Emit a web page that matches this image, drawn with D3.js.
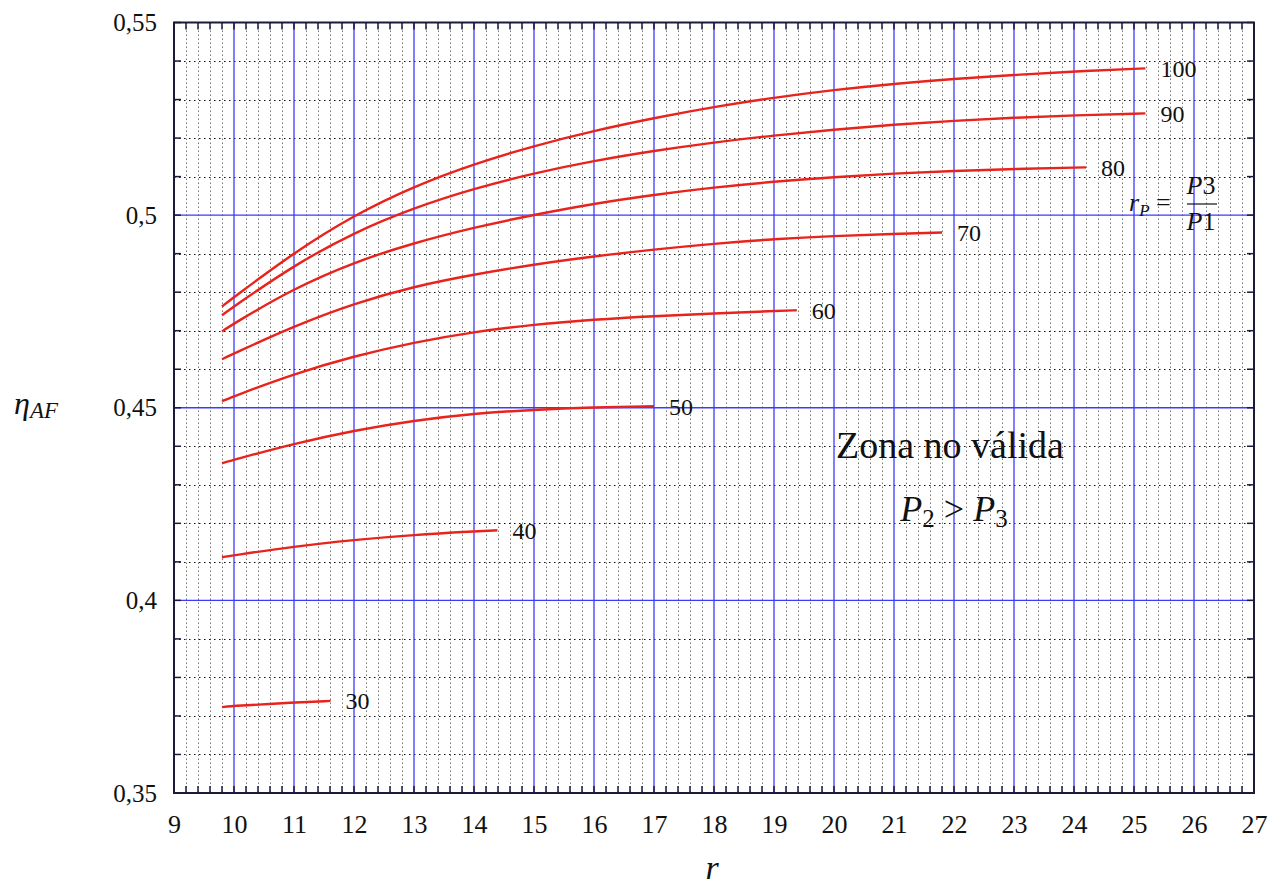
<!DOCTYPE html>
<html><head><meta charset="utf-8">
<script src="https://cdn.jsdelivr.net/npm/d3@7"></script>
<style>body{margin:0;background:#fff}svg{display:block}text{font-family:"Liberation Serif","DejaVu Serif",serif;fill:#111}</style>
</head><body><svg id="c" width="1279" height="886"></svg>
<script>
// ---- data ----
const xTicks = [9,10,11,12,13,14,15,16,17,18,19,20,21,22,23,24,25,26,27];
const yTickValues = [0.35,0.4,0.45,0.5,0.55];
const yTickLabels = ["0,35","0,4","0,45","0,5","0,55"];
const rpLabels = [30,40,50,60,70,80,90,100];

const r30  = [9.8,10,11,11.61];
const eta30 = [0.3723,0.3726,0.3735,0.3739];
const r40  = [9.8,10,11,12,13,14,14.39];
const eta40 = [0.4112,0.4117,0.4140,0.4157,0.4170,0.4179,0.4182];
const r50  = [9.8,10,11,12,13,14,15,16,17];
const eta50 = [0.4356,0.4365,0.4407,0.4441,0.4467,0.4485,0.4495,0.4501,0.4504];
const r60  = [9.8,10,11,12,13,14,15,16,17,18,19,19.38];
const eta60 = [0.4517,0.4530,0.4588,0.4634,0.4670,0.4697,0.4716,0.4729,0.4738,0.4745,0.4751,0.4753];
const r70  = [9.8,10,11,12,13,14,15,16,17,18,19,20,21,21.8];
const eta70 = [0.4626,0.4641,0.4712,0.4771,0.4815,0.4846,0.4872,0.4893,0.4911,0.4926,0.4938,0.4946,0.4951,0.4955];
const r80  = [9.8,10,11,12,13,14,15,16,17,18,19,20,21,22,23,24.2];
const eta80 = [0.4698,0.4719,0.4810,0.4878,0.4928,0.4968,0.5001,0.5030,0.5053,0.5072,0.5087,0.5099,0.5108,0.5115,0.5120,0.5124];
const r90  = [9.8,10,11,12,13,14,15,16,17,18,19,20,21,22,23,24,25.19];
const eta90 = [0.4740,0.4763,0.4870,0.4955,0.5019,0.5069,0.5109,0.5141,0.5167,0.5189,0.5207,0.5222,0.5235,0.5245,0.5253,0.5259,0.5264];
const r100 = [9.8,10,11,12,13,14,15,16,17,18,19,20,21,22,23,24,25.19];
const eta100 = [0.4763,0.4787,0.4903,0.5000,0.5075,0.5133,0.5180,0.5219,0.5252,0.5281,0.5305,0.5325,0.5341,0.5354,0.5364,0.5373,0.5381];

const seriesR = [r30,r40,r50,r60,r70,r80,r90,r100];
const seriesEta = [eta30,eta40,eta50,eta60,eta70,eta80,eta90,eta100];

// ---- layout ----
const L=174, R=1254, T=22.5, B=793;
const svg = d3.select("#c");
const x = d3.scaleLinear().domain([9,27]).range([L,R]);
const y = d3.scaleLinear().domain([0.35,0.55]).range([B,T]);

const g = svg.append("g");
const vMinor = d3.range(9.2,27,0.2).filter(v=>Math.abs(v-Math.round(v))>1e-6);
g.selectAll(".vm").data(vMinor).join("line")
 .attr("x1",d=>Math.round(x(d))+0.5).attr("x2",d=>Math.round(x(d))+0.5)
 .attr("y1",T).attr("y2",B).attr("stroke","#777").attr("stroke-width",1).attr("stroke-dasharray","1.5,2.5");
const hMinor = d3.range(0.36,0.55,0.01).filter(v=>Math.abs(v*20-Math.round(v*20))>1e-6);
g.selectAll(".hm").data(hMinor).join("line")
 .attr("x1",L).attr("x2",R).attr("y1",d=>Math.round(y(d))+0.5).attr("y2",d=>Math.round(y(d))+0.5)
 .attr("stroke","#111").attr("stroke-width",1.2).attr("stroke-dasharray","1.5,3.5");
const vMajor = d3.range(10,27,1);
g.selectAll(".vM").data(vMajor).join("line")
 .attr("x1",d=>x(d)).attr("x2",d=>x(d)).attr("y1",T).attr("y2",B)
 .attr("stroke","#3b3bff").attr("stroke-width",1.3);
const hMajor = [0.4,0.45,0.5];
g.selectAll(".hM").data(hMajor).join("line")
 .attr("x1",L).attr("x2",R).attr("y1",d=>y(d)).attr("y2",d=>y(d))
 .attr("stroke","#3b3bff").attr("stroke-width",1.3);

const xtickAll = d3.range(9,27.001,0.2);
const ytickAll = d3.range(0.35,0.5501,0.01);
const tk = svg.append("g").attr("stroke","#1a1a3a").attr("stroke-width",1.5);
xtickAll.forEach(v=>{
  tk.append("line").attr("x1",x(v)).attr("x2",x(v)).attr("y1",B).attr("y2",B-7);
  tk.append("line").attr("x1",x(v)).attr("x2",x(v)).attr("y1",T).attr("y2",T+7);
});
ytickAll.forEach(v=>{
  tk.append("line").attr("x1",L).attr("x2",L+7).attr("y1",y(v)).attr("y2",y(v));
  tk.append("line").attr("x1",R).attr("x2",R-7).attr("y1",y(v)).attr("y2",y(v));
});
svg.append("rect").attr("x",L).attr("y",T).attr("width",R-L).attr("height",B-T)
 .attr("fill","none").attr("stroke","#1a1a3a").attr("stroke-width",2);

const xAxis = d3.axisBottom(x).tickValues(xTicks).tickSize(0).tickPadding(22).tickFormat(d3.format("d"));
const xa = svg.append("g").attr("transform",`translate(0,${B})`).call(xAxis);
xa.select(".domain").remove();
xa.selectAll("text").attr("font-size",26).attr("fill","#111");
const yAxis = d3.axisLeft(y).tickValues(yTickValues).tickSize(0).tickPadding(17)
 .tickFormat((d,i)=>yTickLabels[i]);
const ya = svg.append("g").attr("transform",`translate(${L},0)`).call(yAxis);
ya.select(".domain").remove();
ya.selectAll("text").attr("font-size",25).attr("fill","#111");

const line = d3.line().x(d=>x(d[0])).y(d=>y(d[1])).curve(d3.curveBasis);
seriesR.forEach((rs,i)=>{
  const pts = rs.map((r,j)=>[r,seriesEta[i][j]]);
  svg.append("path").attr("d",line(pts)).attr("fill","none")
   .attr("stroke","#e8231c").attr("stroke-width",2.4);
  const last = pts[pts.length-1];
  svg.append("text").attr("x",x(last[0])+15).attr("y",y(last[1])).attr("dy","0.35em")
   .attr("font-size",24).text(rpLabels[i]);
});

const yt = svg.append("text").attr("x",14).attr("y",414).attr("font-size",32).attr("font-style","italic");
yt.append("tspan").text("η");
yt.append("tspan").attr("font-size",23).attr("dy",4).text("AF");
svg.append("text").attr("x",712).attr("y",879).attr("text-anchor","middle")
 .attr("font-size",34).attr("font-style","italic").text("r");

svg.append("text").attr("x",950).attr("y",458).attr("text-anchor","middle").attr("font-size",38).text("Zona no válida");
const pp = svg.append("text").attr("x",954).attr("y",521).attr("text-anchor","middle").attr("font-size",36);
pp.append("tspan").attr("font-style","italic").text("P");
pp.append("tspan").attr("font-size",25).attr("dy",6).text("2");
pp.append("tspan").attr("dy",-6).text(" > ");
pp.append("tspan").attr("font-style","italic").text("P");
pp.append("tspan").attr("font-size",25).attr("dy",6).text("3");

const rp = svg.append("text").attr("x",1129).attr("y",211).attr("font-size",26);
rp.append("tspan").attr("font-style","italic").text("r");
rp.append("tspan").attr("font-style","italic").attr("font-size",17).attr("dy",5).text("P");
rp.append("tspan").attr("dy",-5).text(" = ");
svg.append("text").attr("x",1201).attr("y",194).attr("text-anchor","middle").attr("font-size",26)
 .html('<tspan font-style="italic">P</tspan>3');
svg.append("line").attr("x1",1187).attr("x2",1217).attr("y1",204).attr("y2",204).attr("stroke","#111").attr("stroke-width",1.2);
svg.append("text").attr("x",1201).attr("y",230).attr("text-anchor","middle").attr("font-size",26)
 .html('<tspan font-style="italic">P</tspan>1');
</script></body></html>
